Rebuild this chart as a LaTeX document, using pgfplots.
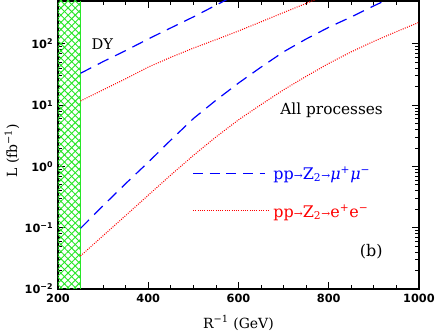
\documentclass[border=0pt]{standalone}
\usepackage{fontspec}
\setmainfont{DejaVu Serif}
\setsansfont{DejaVu Sans}
\usepackage{pgfplots}
\pgfplotsset{compat=1.18}
\usetikzlibrary{patterns.meta,calc}
\definecolor{hatchgreen}{RGB}{40,230,40}

\begin{document}
\begin{tikzpicture}
\begin{axis}[
  name=ax,
  scale only axis, width=270.75pt, height=216pt,
  xmin=200, xmax=1000, ymin=0.01, ymax=500,
  ymode=log, log origin y=infty,
  xtick={200,400,600,800,1000}, minor x tick num=3,
  ytick={0.01,0.1,1,10,100},
  yticklabels={{10\textsuperscript{−2}},{10\textsuperscript{−1}},{10\textsuperscript{0}},{10\textsuperscript{1}},{10\textsuperscript{2}}},
  tick align=inside,
  major tick length=5.25pt, minor tick length=3pt,
  axis line style={line width=0.9pt},
  every tick/.style={black, line width=0.6pt},
  tick label style={font=\sffamily\bfseries\fontsize{8.5}{10}\selectfont},
  /pgf/number format/assume math mode=true,
  /pgf/number format/1000 sep={},
  xlabel={R\textsuperscript{−1} (GeV)},
  ylabel={L (fb\textsuperscript{−1})},
  label style={font=\fontsize{10.5}{12}\selectfont},
  xlabel style={at={(axis description cs:0.5,-0.118)}, anchor=center},
  ylabel style={at={(axis description cs:-0.1274,0.48)}, anchor=center},
]

% excluded region R^-1 < 250 GeV
\addplot[draw=none, pattern={Lines[angle=45,distance=3.8pt,line width=0.7pt]}, pattern color=hatchgreen]
  coordinates {(200,500) (250,500)} \closedcycle;
\addplot[draw=none, pattern={Lines[angle=-45,distance=3.8pt,line width=0.7pt]}, pattern color=hatchgreen]
  coordinates {(200,500) (250,500)} \closedcycle;
\addplot[hatchgreen, line width=1.2pt] coordinates {(250,0.01) (250,500)};

% Drell-Yan only
\addplot[blue, line width=0.9pt, dash pattern=on 9pt off 5.5pt] coordinates {
  (250,33.1) (300,51.3) (350,77.6) (400,120) (450,182) (500,275) (550,427) (600,660)
};
\addplot[red, line width=0.8pt, dash pattern=on 0.7pt off 1pt] coordinates {
  (250,11.7) (300,17.8) (350,26.9) (400,41.7) (450,60.3) (500,85.1) (550,117)
  (600,162) (650,229) (700,324) (750,457) (800,646)
};

% all processes
\addplot[blue, line width=0.9pt, dash pattern=on 9pt off 5.5pt] coordinates {
  (250,0.0977) (300,0.229) (350,0.525) (400,1.17) (450,2.69) (500,6.03) (550,12.0)
  (600,22.9) (650,41.7) (700,74.1) (750,120) (800,186) (850,275) (900,417) (950,617)
};
\addplot[red, line width=0.8pt, dash pattern=on 0.7pt off 1pt] coordinates {
  (250,0.0347) (300,0.0741) (350,0.158) (400,0.339) (450,0.724) (500,1.51) (550,3.02)
  (600,5.75) (650,10.2) (700,17.8) (750,29.5) (800,47.9) (850,74.1) (900,110)
  (950,158) (1000,224)
};

\node[anchor=west, font=\fontsize{11}{13}\selectfont] at (rel axis cs:0.08,0.851) {DY};
\node[anchor=west, font=\fontsize{11.5}{13}\selectfont] at (rel axis cs:0.603,0.622) {All processes};

% legend keys
\draw[blue, line width=0.9pt, dash pattern=on 7.5pt off 5pt] (rel axis cs:0.374,0.402) -- (rel axis cs:0.573,0.402);
\draw[red, line width=0.8pt, dash pattern=on 0.7pt off 1pt] (rel axis cs:0.374,0.274) -- (rel axis cs:0.582,0.274);
\node[anchor=west, blue, font=\fontsize{12}{14}\selectfont, inner sep=0pt] at (rel axis cs:0.596,0.396)
  {pp{\footnotesize→}Z\textsubscript{2}{\footnotesize→}\textit{μ}\textsuperscript{+}\textit{μ}\textsuperscript{−}};
\node[anchor=west, red, font=\fontsize{12}{14}\selectfont, inner sep=0pt] at (rel axis cs:0.596,0.264)
  {pp{\footnotesize→}Z\textsubscript{2}{\footnotesize→}e\textsuperscript{+}e\textsuperscript{−}};
\node[font=\fontsize{12}{14}\selectfont] at (rel axis cs:0.868,0.128) {(b)};
\end{axis}
\pgfresetboundingbox
\path ($(ax.south west)+(-43.5pt,-33.75pt)$) rectangle ($(ax.south west)+(283.5pt,216.75pt)$);
\end{tikzpicture}
\end{document}
